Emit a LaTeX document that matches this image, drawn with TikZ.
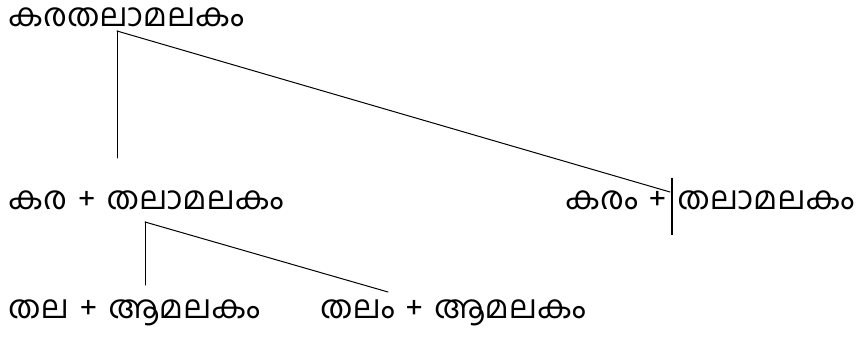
\documentclass[tikz,border=0pt]{standalone}
\usepackage{fontspec}
\newfontfamily\malfont[Script=Malayalam,WordSpace=1.4]{Hind Kochi}
\usetikzlibrary{positioning}
\tikzset{
  every picture/.style={line join=round, line cap=round},
  word/.style={inner sep=0pt, anchor=base west, font=\malfont\fontsize{32}{34}\selectfont},
  link/.style={line width=1pt},
  bar/.style={line width=2.6pt, line cap=butt},
}

\begin{document}
\begin{tikzpicture}[x=1pt,y=-1pt]
\useasboundingbox (0,0) rectangle (865,339);
% words
\node[word] (whole) at (8,27) {കരതലാമലകം};
\node[word] (splitA) at (8,210) {കര + തലാമലകം};
\node[word] (splitB) at (565,210) {കരം + തലാമലകം};
\node[word] (subA) at (8,318) {തല + ആമലകം};
\node[word] (subB) at (320,318) {തലം + ആമലകം};
% branch points
\coordinate (root) at (117,31);
\coordinate (rootdown) at (117,158);
\coordinate (rootend) at (670,192);
\coordinate (fork) at (145,222);
\coordinate (forkdown) at (145,285);
\coordinate (forkend) at (388,292);
\coordinate (bartop) at (672,178);
\coordinate (barbot) at (672,235);
\draw[link] (root) -- (rootdown);
\draw[link] (root) -- (rootend);
\draw[link] (fork) -- (forkdown);
\draw[link] (fork) -- (forkend);
\draw[bar] (bartop) -- (barbot);
\end{tikzpicture}
\end{document}
